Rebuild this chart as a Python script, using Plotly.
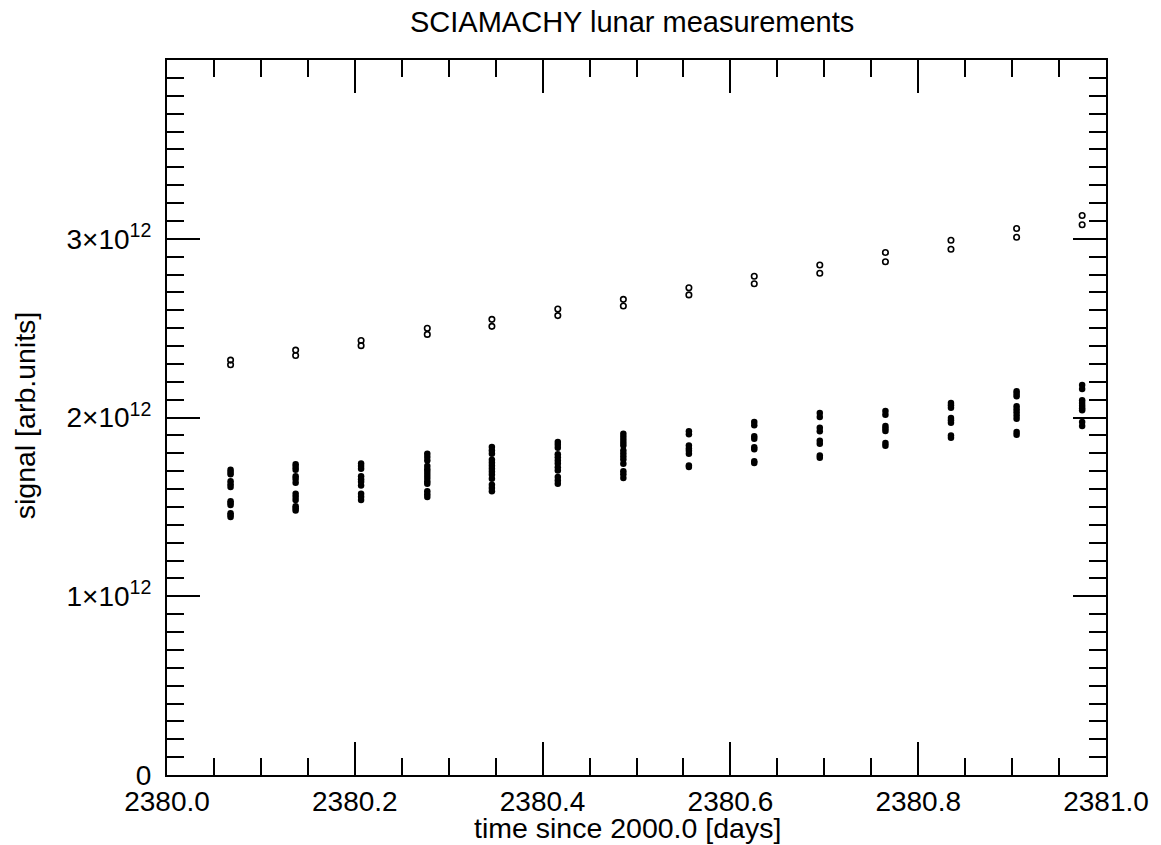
import plotly.graph_objects as go

SCALE = 1e12  # values below are in units of 1e12

# orbit-group times (days since 2000.0)
group_times = [2380.0677, 2380.1370, 2380.2067, 2380.2772, 2380.3460, 2380.4162, 2380.4860,
               2380.5558, 2380.6254, 2380.6952, 2380.7651, 2380.8349, 2380.9048, 2380.9746]

# open-circle series (two points per group)
open_hi = [2.321, 2.377, 2.431, 2.499, 2.549, 2.607, 2.661, 2.726, 2.790, 2.853, 2.923, 2.992, 3.057, 3.130]
open_lo = [2.295, 2.347, 2.402, 2.465, 2.510, 2.570, 2.624, 2.686, 2.748, 2.807, 2.871, 2.941, 3.008, 3.078]

# filled-dot series (many points per group)
filled = [
    [1.707, 1.695, 1.683, 1.644, 1.627, 1.611, 1.532, 1.521, 1.510, 1.465, 1.454, 1.443],
    [1.738, 1.723, 1.707, 1.672, 1.656, 1.635, 1.573, 1.556, 1.539, 1.504, 1.492, 1.480],
    [1.743, 1.728, 1.713, 1.671, 1.655, 1.640, 1.620, 1.573, 1.556, 1.539],
    [1.797, 1.779, 1.760, 1.728, 1.711, 1.695, 1.678, 1.661, 1.644, 1.629, 1.588, 1.571, 1.555],
    [1.835, 1.816, 1.797, 1.764, 1.747, 1.730, 1.713, 1.696, 1.680, 1.658, 1.624, 1.605, 1.587],
    [1.863, 1.847, 1.831, 1.794, 1.777, 1.760, 1.743, 1.721, 1.704, 1.667, 1.648, 1.629],
    [1.909, 1.892, 1.876, 1.859, 1.844, 1.815, 1.798, 1.782, 1.765, 1.741, 1.700, 1.682, 1.661],
    [1.923, 1.906, 1.844, 1.827, 1.814, 1.797, 1.732, 1.723],
    [1.975, 1.956, 1.895, 1.881, 1.833, 1.822, 1.755, 1.745],
    [2.025, 2.003, 1.943, 1.923, 1.870, 1.853, 1.788, 1.775],
    [2.036, 2.016, 1.952, 1.938, 1.924, 1.857, 1.842],
    [2.081, 2.068, 2.055, 1.997, 1.984, 1.971, 1.900, 1.887],
    [2.147, 2.133, 2.119, 2.063, 2.046, 2.029, 2.011, 1.993, 1.919, 1.904],
    [2.182, 2.160, 2.096, 2.081, 2.066, 2.052, 2.041, 1.975, 1.952],
]

y_tickvals = [0, 1, 2, 3]
y_ticktext = ["0", "1×10<sup>12</sup>", "2×10<sup>12</sup>", "3×10<sup>12</sup>"]
x_tickvals = [2380.0, 2380.2, 2380.4, 2380.6, 2380.8, 2381.0]
x_ticktext = ["2380.0", "2380.2", "2380.4", "2380.6", "2380.8", "2381.0"]

ox, oy = [], []
for t, a, b in zip(group_times, open_hi, open_lo):
    ox += [t, t]
    oy += [a * SCALE, b * SCALE]

fx, fy = [], []
for t, vals in zip(group_times, filled):
    for v in vals:
        fx.append(t)
        fy.append(v * SCALE)

FONT = "Liberation Sans, Arial, Helvetica, sans-serif"

fig = go.Figure()
fig.add_trace(go.Scatter(x=fx, y=fy, mode="markers",
                         marker=dict(symbol="circle", size=6.5, color="black", line=dict(width=0)),
                         showlegend=False))
fig.add_trace(go.Scatter(x=ox, y=oy, mode="markers",
                         marker=dict(symbol="circle-open", size=5.5, color="black", line=dict(width=1.6)),
                         showlegend=False))

axis_common = dict(showline=True, linecolor="black", linewidth=2, mirror="allticks",
                   ticks="inside", tickcolor="black", tickwidth=1.6, ticklen=33,
                   showgrid=False, zeroline=False,
                   tickfont=dict(family=FONT, size=28, color="black"))

fig.update_xaxes(range=[2380.0, 2381.0], tickvals=x_tickvals, ticktext=x_ticktext,
                 minor=dict(dtick=0.05, tick0=2380.0, ticks="inside", ticklen=17, tickwidth=1.6,
                            tickcolor="black", showgrid=False),
                 **axis_common)
fig.update_yaxes(range=[0, 4 * SCALE], tickvals=[v * SCALE for v in y_tickvals], ticktext=y_ticktext,
                 ticklabelstandoff=8,
                 minor=dict(dtick=0.1 * SCALE, tick0=0, ticks="inside", ticklen=17, tickwidth=1.6,
                            tickcolor="black", showgrid=False),
                 **axis_common)

fig.update_layout(
    width=1161, height=845,
    margin=dict(l=167, r=49, t=60, b=70, pad=0),
    paper_bgcolor="white", plot_bgcolor="white",
    font=dict(family=FONT, size=28, color="black"),
    annotations=[
        dict(text="SCIAMACHY lunar measurements", xref="paper", yref="paper",
             x=0.4952, y=1 + 38 / 715, xanchor="center", yanchor="middle", showarrow=False,
             font=dict(family=FONT, size=29, color="black")),
        dict(text="time since 2000.0 [days]", xref="paper", yref="paper",
             x=0.490, y=-53 / 715, xanchor="center", yanchor="middle", showarrow=False,
             font=dict(family=FONT, size=28.5, color="black")),
        dict(text="signal [arb.units]", xref="paper", yref="paper", textangle=-90,
             x=-143 / 945, y=0.503, xanchor="center", yanchor="middle", showarrow=False,
             font=dict(family=FONT, size=28.5, color="black")),
    ],
)

fig.write_html("out.html")
